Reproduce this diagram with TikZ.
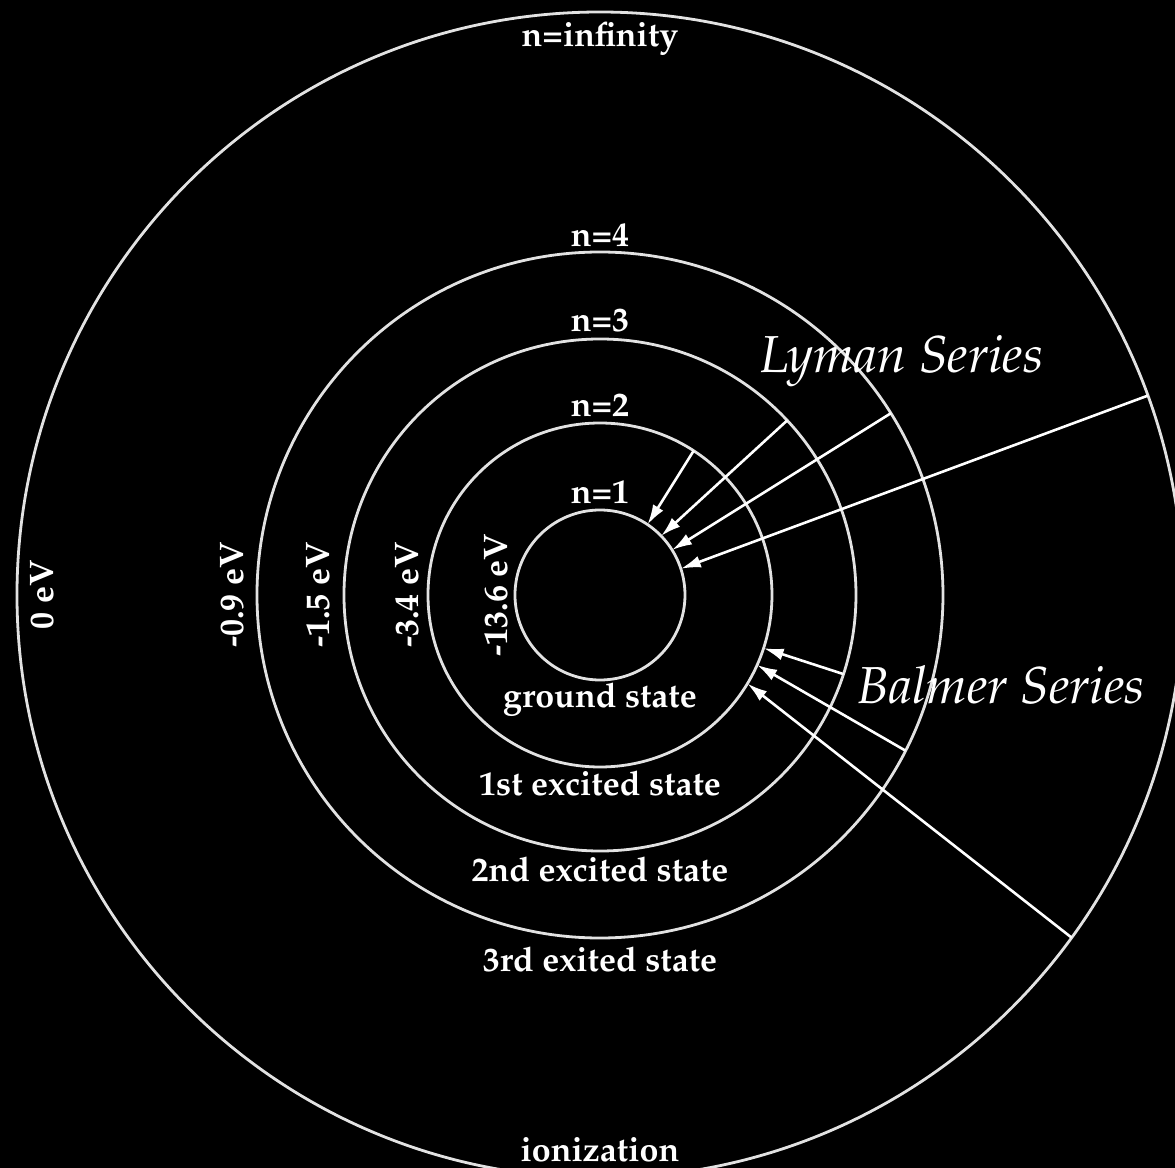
\documentclass[tikz,border=0pt]{standalone}
\usepackage[T1]{fontenc}
\usepackage{mathpazo}
\usetikzlibrary{positioning, arrows.meta}
\definecolor{orbitGray}{RGB}{226, 226, 226}
\tikzset{
  orbit/.style={
    circle,
    draw=orbitGray,
    line width=1.4pt,
    inner sep=0pt,
    outer sep=0pt
  },
  levelLabel/.style={
    inner sep=0pt,
    text=white,
    font=\fontsize{17}{20}\selectfont\bfseries
  },
  energyLabel/.style={
    levelLabel,
    rotate=90
  },
  seriesLabel/.style={
    inner sep=0pt,
    text=white,
    font=\fontsize{26}{30}\selectfont\itshape
  },
  transition/.style={
    -{Latex[length=10pt,width=6pt]},
    draw=white,
    line width=1.3pt
  }
}

\begin{document}
\begin{tikzpicture}[x=0.5pt, y=0.5pt]
  % background, one unit per pixel
  \fill[black] (-600,-573) rectangle (575,595);
  \useasboundingbox (-600,-573) rectangle (575,595);
  \clip (-600,-573) rectangle (575,595);
  % orbits
  \node[orbit, minimum size=85pt] (lvlOne) at (0,0) {};
  \node[orbit, minimum size=172pt] (lvlTwo) at (0,0) {};
  \node[orbit, minimum size=256pt] (lvlThree) at (0,0) {};
  \node[orbit, minimum size=343pt] (lvlFour) at (0,0) {};
  \node[orbit, minimum size=583pt] (lvlInf) at (0,0) {};
  % level names
  \node[levelLabel, above=3pt of lvlOne.north] (nOne) {n=1};
  \node[levelLabel, above=3pt of lvlTwo.north] (nTwo) {n=2};
  \node[levelLabel, above=3.5pt of lvlThree.north] (nThree) {n=3};
  \node[levelLabel, above=2.5pt of lvlFour.north] (nFour) {n=4};
  \node[levelLabel, below=5pt of lvlInf.north] (nInf) {n=infinity};
  % states
  \node[levelLabel, below=1.5pt of lvlOne.south] (gState) {ground state};
  \node[levelLabel, below=2pt of lvlTwo.south] (firstState) {1st excited state};
  \node[levelLabel, below=3pt of lvlThree.south] (secondState) {2nd excited state};
  \node[levelLabel, below=4.5pt of lvlFour.south] (thirdState) {3rd exited state};
  \node[levelLabel, above=8pt of lvlInf.south] (ionize) {ionization};
  % energies
  \node[energyLabel] (eOne) at (-104,0) {-13.6 eV};
  \node[energyLabel] (eTwo) at (-193,0) {-3.4 eV};
  \node[energyLabel] (eThree) at (-282,0) {-1.5 eV};
  \node[energyLabel] (eFour) at (-368,0) {-0.9 eV};
  \node[energyLabel] (eInf) at (-558,0) {0 eV};
  % series
  \node[seriesLabel, anchor=base] (lyman) at (302,222) {Lyman Series};
  \node[seriesLabel, anchor=base] (balmer) at (401,-108) {Balmer Series};
  \draw[transition] (lvlTwo.57) -- (lvlOne.56.5);
  \draw[transition] (lvlThree.43.7) -- (lvlOne.44.8);
  \draw[transition] (lvlFour.32.7) -- (lvlOne.32);
  \draw[transition] (lvlInf.20.7) -- (lvlOne.18);
  \draw[transition] (lvlThree.-18.2) -- (lvlTwo.-18.4);
  \draw[transition] (lvlFour.-27.5) -- (lvlTwo.-24.4);
  \draw[transition] (lvlInf.-36.6) -- (lvlTwo.-31.5);
\end{tikzpicture}
\end{document}
